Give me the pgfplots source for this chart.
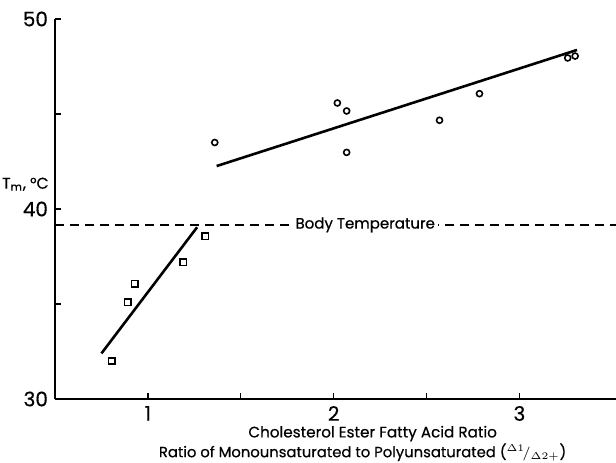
\documentclass[border=0pt]{standalone}
\usepackage{pgfplots}
\pgfplotsset{compat=1.18}
\usepackage{fontspec}
\setmainfont{Poppins}[FakeBold=0.5]
\begin{document}
\begin{tikzpicture}
\begin{axis}[
 name=ax, scale only axis, width=280.5pt, height=190pt,
 xmin=0.5, xmax=3.52, ymin=30, ymax=50,
 axis x line=bottom, axis y line=left,
 axis line style={-, line width=0.9pt},
 xtick={1,1.5,2,2.5,3}, xticklabels={1,,2,,3},
 ytick={30,35,40,45,50}, yticklabels={30,,40,,50},
 tick align=inside, major tick length=3pt,
 tick style={line width=0.7pt, black},
 ticklabel style={font=\fontsize{10}{12}\selectfont},
 /pgf/number format/assume math mode=true,
 clip=false,
]
\coordinate (sw) at (rel axis cs:0,0);
\coordinate (ne) at (rel axis cs:1,1);
% body temperature
\addplot[black, line width=0.6pt, dash pattern=on 4.5pt off 3pt] coordinates {(0.5,39.16) (3.52,39.16)};
\node[fill=white, inner sep=1.5pt, font=\fontsize{7.5}{9}\selectfont] at (axis cs:2.17,39.16) {Body Temperature};
% squares
\addplot[only marks, mark=square, mark size=1.6pt, mark options={line width=0.8pt}] coordinates {
(0.805,32.0) (0.891,35.1) (0.93,36.07) (1.19,37.2) (1.31,38.56)};
\addplot[black, line width=1.3pt] coordinates {(0.75,32.4) (1.265,39.04)};
% circles
\addplot[only marks, mark=o, mark size=1.5pt, mark options={line width=0.8pt}] coordinates {
(1.36,43.5) (2.02,45.58) (2.07,45.16) (2.07,42.98) (2.57,44.67) (2.785,46.07) (3.26,47.95) (3.30,48.05)};
\addplot[black, line width=1.3pt] coordinates {(1.37,42.26) (3.31,48.37)};
% labels
\node[anchor=east, inner sep=0pt, font=\fontsize{7.8}{10}\selectfont] at (axis cs:0.5,41.3) [xshift=-3pt] {T\textsubscript{m}, °C};
\node[font=\fontsize{7.6}{9}\selectfont] at (axis cs:2.21,30) [yshift=-17.3pt] {Cholesterol Ester Fatty Acid Ratio};
\node[font=\fontsize{7.4}{9}\selectfont] at (axis cs:2.156,30) [yshift=-26.6pt] {Ratio of Monounsaturated to Polyunsaturated ($^{\textstyle\scriptscriptstyle\Delta\scriptstyle 1}\!/_{\scriptscriptstyle\Delta\scriptstyle 2+}$)};
\end{axis}
\pgfresetboundingbox
\path ([xshift=-27.5pt,yshift=-31.5pt]sw) rectangle ([yshift=9.5pt]ne);
\end{tikzpicture}
\end{document}
